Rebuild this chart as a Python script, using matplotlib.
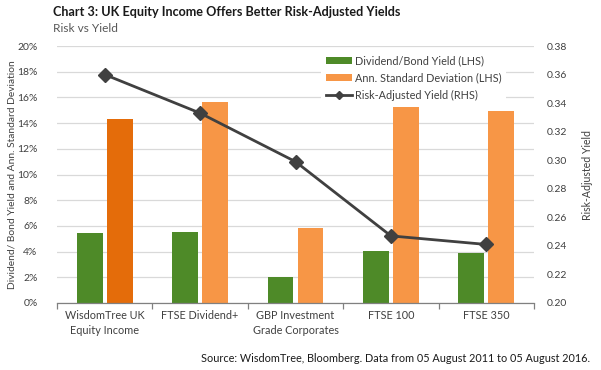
import matplotlib
matplotlib.use("Agg")
import matplotlib.pyplot as plt
import numpy as np
from matplotlib.patches import Patch
from matplotlib.lines import Line2D

plt.rcParams['font.family'] = ['Lato', 'DejaVu Sans']

categories = ["WisdomTree UK\nEquity Income", "FTSE Dividend+", "GBP Investment\nGrade Corporates", "FTSE 100", "FTSE 350"]
dividend_yield = [5.45, 5.5, 2.05, 4.05, 3.9]
std_dev = [14.35, 15.65, 5.82, 15.28, 14.95]
risk_adj_yield = [0.360, 0.333, 0.299, 0.247, 0.241]
left_ticks = [0, 2, 4, 6, 8, 10, 12, 14, 16, 18, 20]
right_ticks = [0.20, 0.22, 0.24, 0.26, 0.28, 0.30, 0.32, 0.34, 0.36, 0.38]

green = "#4e8a28"
orange = "#f79646"
dark_orange = "#e46c0a"
line_col = "#404040"
text_col = "#404040"

fig = plt.figure(figsize=(6.01, 3.70), dpi=100)
ax = fig.add_axes([57/601, 1-303/370, 477/601, 257/370])

x = np.arange(len(categories))
w = 0.27
off = 0.157
ax.bar(x - off, dividend_yield, w, color=green, zorder=2)
ocols = [dark_orange] + [orange]*(len(categories)-1)
ax.bar(x + off, std_dev, w, color=ocols, zorder=2)

ax.set_xlim(-0.5, len(categories)-0.5)
ax.set_ylim(0, 20)
ax.set_yticks(left_ticks)
ax.set_yticklabels([f"{t}%" for t in left_ticks])
ax.yaxis.grid(True, color="#d9d9d9", lw=0.9, zorder=0)
ax.set_axisbelow(True)
for s in ["top", "right", "left"]:
    ax.spines[s].set_visible(False)
ax.spines["bottom"].set_color("#808080")
ax.spines["bottom"].set_linewidth(0.9)
ax.tick_params(axis="y", length=0, labelsize=7.5, labelcolor=text_col, pad=14)
ax.set_xticks(np.arange(len(categories)+1) - 0.5)
ax.set_xticklabels([])
ax.tick_params(axis="x", which="major", length=4, color="#808080", width=0.9)
ax.set_xticks(x, minor=True)
ax.set_xticklabels(categories, minor=True, fontsize=7.8, color=text_col, linespacing=1.5)
ax.tick_params(axis="x", which="minor", length=0, pad=5)
ax.set_ylabel("Dividend/ Bond Yield and Ann. Standard Deviation", fontsize=7.4, color=text_col)
ax.yaxis.set_label_coords(-40/477, 0.5)

ax2 = ax.twinx()
ax2.plot(x, risk_adj_yield, color=line_col, lw=2.0, marker="D", ms=7, zorder=5)
ax2.set_ylim(0.20, 0.38)
ax2.set_yticks(right_ticks)
ax2.set_yticklabels([f"{t:.2f}" for t in right_ticks])
ax2.tick_params(axis="y", length=0, labelsize=7.5, labelcolor=text_col, pad=9)
for s in ["top", "right", "left", "bottom"]:
    ax2.spines[s].set_visible(False)
ax2.set_ylabel("Risk-Adjusted Yield", fontsize=7.6, color=text_col)
ax2.yaxis.set_label_coords(1 + 48/477, 0.5)

handles = [Patch(facecolor=green, label="Dividend/Bond Yield (LHS)"),
           Patch(facecolor=orange, label="Ann. Standard Deviation (LHS)"),
           Line2D([0], [0], color=line_col, lw=2.0, marker="D", ms=4, label="Risk-Adjusted Yield (RHS)")]
leg = ax2.legend(handles=handles, loc="upper left", bbox_to_anchor=(316/601, 1-46/370),
                 bbox_transform=fig.transFigure, frameon=True, fontsize=7.8,
                 handlelength=2.4, handleheight=0.6, handletextpad=0.3, labelspacing=0.55,
                 borderpad=0.4, labelcolor=text_col)
leg.get_frame().set_facecolor("white")
leg.get_frame().set_edgecolor("none")
leg.get_frame().set_alpha(1)

fig.text(53/601, 1-12/370, "Chart 3: UK Equity Income Offers Better Risk-Adjusted Yields",
         fontsize=9.1, fontweight="bold", color="#1a1a1a", va="center", ha="left")
fig.text(53/601, 1-29/370, "Risk vs Yield", fontsize=8.6, color="#595959", va="center", ha="left")
fig.text(590/601, 1-358/370, "Source: WisdomTree, Bloomberg. Data from 05 August 2011 to 05 August 2016.",
         fontsize=7.8, color="#1a1a1a", va="center", ha="right")

fig.savefig("out.png", dpi=100)
